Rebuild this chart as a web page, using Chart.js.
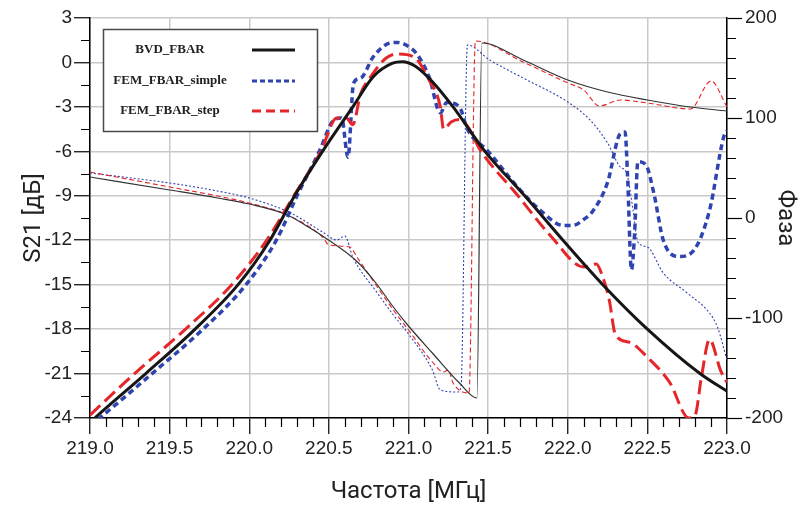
<!DOCTYPE html>
<html><head><meta charset="utf-8">
<script src="https://cdn.jsdelivr.net/npm/chart.js@4.4.0/dist/chart.umd.min.js"></script>
<style>html,body{margin:0;padding:0;background:#fff}#wrap{width:805px;height:506px}</style>
</head><body><div id="wrap"><canvas id="c" width="805" height="506"></canvas></div>
<script>
// ---- tick labels ----
const xTickVals = [219.0,219.5,220.0,220.5,221.0,221.5,222.0,222.5,223.0];
const s21TickVals = [-24,-21,-18,-15,-12,-9,-6,-3,0,3];
const phaseTickVals = [-200,-100,0,100,200];
const legendNames = ['BVD_FBAR','FEM_FBAR_simple','FEM_FBAR_step'];

// ---- S21 [dB] ----
const bvdS21F = [219.0,219.03,219.35,219.66,219.93,220.13,220.285,220.46,220.65,220.78,220.9,220.96,221.05,221.15,221.28,221.48,221.73,221.97,222.22,222.5,222.83,223.0];
const bvdS21  = [-24.3,-24,-21,-18,-15,-12,-9,-6,-3,-0.95,-0.05,0.05,-0.3,-1.3,-3,-6,-9,-12,-15,-18,-21,-22.2];

const simpleS21F = [219.0,219.06,219.39,219.71,219.98,220.17,220.3,220.44,220.53,220.58,220.62,220.655,220.7,220.78,220.88,220.93,220.98,221.05,221.13,221.2,221.24,221.32,221.37,221.5,221.7,221.83,221.97,222.03,222.1,222.16,222.25,222.33,222.36,222.375,222.4,222.42,222.44,222.49,222.54,222.6,222.7,222.79,222.89,222.98,223.0];
const simpleS21  = [-24.5,-24,-21,-18,-15,-12,-9,-6,-3.9,-3.75,-6.4,-1.4,-1.05,0.4,1.3,1.35,1.2,0.6,-1.0,-3.4,-2.7,-3.0,-4.5,-6.0,-8.6,-10.0,-11.0,-11.0,-10.6,-10.0,-8.1,-4.8,-4.7,-7.5,-14.0,-11.5,-6.7,-6.9,-8.8,-12.0,-13.1,-12.7,-10.0,-5.0,-4.6];

const stepS21F = [219.0,219.28,219.6,219.89,220.11,220.28,220.45,220.55,220.61,220.65,220.7,220.76,220.86,220.93,221.03,221.13,221.2,221.22,221.27,221.32,221.37,221.45,221.68,221.9,222.1,222.18,222.22,222.26,222.3,222.39,222.5,222.64,222.76,222.8,222.84,222.89,222.96,223.0];
const stepS21  = [-23.8,-21,-18,-15,-12,-9,-6,-3.75,-3.75,-4.2,-2.1,-1.0,0.3,0.57,0.4,-1.2,-3.0,-4.5,-4.0,-3.85,-4.3,-5.9,-8.9,-11.8,-13.8,-13.6,-14.5,-16.0,-18.4,-18.9,-19.9,-21.6,-24.0,-23.8,-21.2,-18.7,-20.8,-21.6];

// ---- Phase [deg] ----
const bvdPhF = [219.0,219.5,219.8,220.0,220.24,220.35,220.46,220.68,220.8,220.9,221.0,221.15,221.32,221.43,221.46,221.72,222.0,222.25,222.5,222.77,223.0];
const bvdPh  = [41,28,20,14,3,-7,-18,-44,-66,-88,-108,-135,-165,-180,175,158,138,126,118,111,107];

const simplePhF = [219.0,219.5,219.8,220.0,220.26,220.46,220.55,220.6,220.65,220.8,220.9,221.0,221.15,221.2,221.31,221.33,221.37,221.51,221.72,222.0,222.14,222.25,222.33,222.37,222.41,222.44,222.5,222.6,222.75,222.89,222.94,223.0];
const simplePh  = [45,35,27,20,5,-14,-22,-18,-39,-74,-96,-116,-152,-172,-174,-168,173,158,140,116,98,75,51,45,8,-24,-29,-55,-75,-95,-109,-142];

const stepPhF = [219.0,219.5,219.8,220.0,220.24,220.46,220.5,220.63,220.68,220.8,220.9,221.0,221.15,221.22,221.25,221.28,221.38,221.42,221.72,222.0,222.1,222.2,222.33,222.5,222.77,222.9,223.0];
const stepPh  = [46,31,22,15,3,-19,-27,-29,-40,-68,-91,-112,-144,-154,-152,-165,-175,177,156,135,128,112,118,115,109,137,111];

const pts = (xs, ys) => xs.map((x, i) => ({x, y: ys[i]}));

const BLACK = '#161616', BLUE = '#3044b0', RED = '#e5262a';

const minorTicks = {
  id: 'minorTicks',
  afterDraw(chart) {
    const {ctx, scales} = chart;
    const sx = scales.x, sy = scales.y, s2 = scales.y2;
    ctx.save();
    ctx.strokeStyle = '#000';
    ctx.lineWidth = 1.2;
    ctx.beginPath();
    for (let i = 1; i < 40; i++) {
      if (i % 5 === 0) continue;
      const px = Math.round(sx.getPixelForValue(219 + i * 0.1)) + 0.5;
      ctx.moveTo(px, sx.top); ctx.lineTo(px, sx.top + 9);
    }
    for (let i = 0; i < 9; i++) {
      const py = Math.round(sy.getPixelForValue(-22.5 + i * 3)) + 0.5;
      ctx.moveTo(sy.right, py); ctx.lineTo(sy.right - 9, py);
    }
    for (let v = -180; v < 200; v += 20) {
      if (v % 100 === 0) continue;
      const py = Math.round(s2.getPixelForValue(v)) + 0.5;
      ctx.moveTo(s2.left, py); ctx.lineTo(s2.left + 9, py);
    }
    ctx.stroke();
    ctx.restore();
  }
};

// legend entries: dataset index for each row, in reference order
const legendRows = [0, 2, 1];

const legendBox = {
  id: 'legendBox',
  afterDraw(chart) {
    const ctx = chart.ctx;
    const ds = chart.data.datasets;
    ctx.save();
    ctx.fillStyle = '#fff';
    ctx.fillRect(103, 29, 215, 103);
    ctx.strokeStyle = '#4a4a4a';
    ctx.lineWidth = 1.5;
    ctx.strokeRect(103.5, 29.5, 214, 102);
    const rows = [50, 81, 111];
    ctx.font = 'bold 13px "Liberation Serif", "Times New Roman", serif';
    ctx.textAlign = 'center';
    ctx.textBaseline = 'middle';
    legendRows.forEach((di, i) => {
      const d = ds[di];
      ctx.fillStyle = '#222';
      ctx.fillText(d.label, 170, rows[i]);
      ctx.strokeStyle = d.borderColor;
      ctx.lineWidth = i === 0 ? 3 : 2.8;
      ctx.setLineDash(i === 0 ? [] : (i === 1 ? [5, 3] : [9, 5]));
      ctx.beginPath();
      ctx.moveTo(252, rows[i]); ctx.lineTo(295, rows[i]);
      ctx.stroke();
    });
    ctx.restore();
  }
};

const tickFont = {family: '"Liberation Sans", Arial, sans-serif', size: 19};
const titleFont = {family: 'Roboto, "Open Sans", sans-serif', size: 24};

new Chart(document.getElementById('c'), {
  type: 'line',
  data: {
    datasets: [
      {label: legendNames[0], data: pts(bvdS21F, bvdS21), yAxisID: 'y', borderColor: BLACK, borderWidth: 3, pointRadius: 0, cubicInterpolationMode: 'monotone'},
      {label: legendNames[2], data: pts(stepS21F, stepS21), yAxisID: 'y', borderColor: RED, borderWidth: 3, borderDash: [14, 6], pointRadius: 0, cubicInterpolationMode: 'monotone'},
      {label: legendNames[1], data: pts(simpleS21F, simpleS21), yAxisID: 'y', borderColor: BLUE, borderWidth: 3.5, borderDash: [6, 4], pointRadius: 0, cubicInterpolationMode: 'monotone'},
      {label: legendNames[0] + ' phase', data: pts(bvdPhF, bvdPh), yAxisID: 'y2', borderColor: '#333', borderWidth: 1.2, pointRadius: 0, cubicInterpolationMode: 'monotone'},
      {label: legendNames[2] + ' phase', data: pts(stepPhF, stepPh), yAxisID: 'y2', borderColor: RED, borderWidth: 1.1, borderDash: [5, 3], pointRadius: 0, cubicInterpolationMode: 'monotone'},
      {label: legendNames[1] + ' phase', data: pts(simplePhF, simplePh), yAxisID: 'y2', borderColor: BLUE, borderWidth: 1.1, borderDash: [2, 2], pointRadius: 0, cubicInterpolationMode: 'monotone'}
    ]
  },
  options: {
    responsive: false,
    animation: false,
    devicePixelRatio: 1,
    layout: {padding: {top: 18, left: 0, right: 0, bottom: 0}},
    plugins: {legend: {display: false}, tooltip: {enabled: false}},
    scales: {
      x: {
        type: 'linear', min: 219, max: 223,
        afterBuildTicks: s => { s.ticks = xTickVals.map(v => ({value: v})); },
        afterFit: s => { s.height = 88; },
        ticks: {font: tickFont, color: '#222', padding: 3, maxRotation: 0, callback: v => Number(v).toFixed(1)},
        grid: {color: '#c9c9c9', lineWidth: 1.5, tickColor: '#000', tickLength: 16, tickWidth: 1.2},
        border: {display: true, color: '#000', width: 1.5},
        title: {display: true, text: 'Частота [МГц]', font: titleFont, color: '#222', padding: {top: 0, bottom: 0}}
      },
      y: {
        type: 'linear', position: 'left', min: -24, max: 3,
        afterBuildTicks: s => { s.ticks = s21TickVals.map(v => ({value: v})); },
        afterFit: s => { s.width = 90; },
        ticks: {font: tickFont, color: '#222', padding: 2},
        grid: {color: '#c9c9c9', lineWidth: 1.5, tickColor: '#000', tickLength: 16, tickWidth: 1.2},
        border: {display: true, color: '#000', width: 1.5},
        title: {display: true, text: 'S21 [дБ]', font: titleFont, color: '#222', padding: {top: 20, bottom: 0}}
      },
      y2: {
        type: 'linear', position: 'right', min: -200, max: 200,
        afterBuildTicks: s => { s.ticks = phaseTickVals.map(v => ({value: v})); },
        afterFit: s => { s.width = 78; },
        ticks: {font: tickFont, color: '#222', padding: 3},
        grid: {drawOnChartArea: false, tickColor: '#000', tickLength: 15, tickWidth: 1.2},
        border: {display: true, color: '#000', width: 1.5},
        title: {display: true, text: 'Фаза', font: titleFont, color: '#222', padding: {top: 6, bottom: 0}}
      }
    }
  },
  plugins: [minorTicks, legendBox]
});
</script>
</body></html>
